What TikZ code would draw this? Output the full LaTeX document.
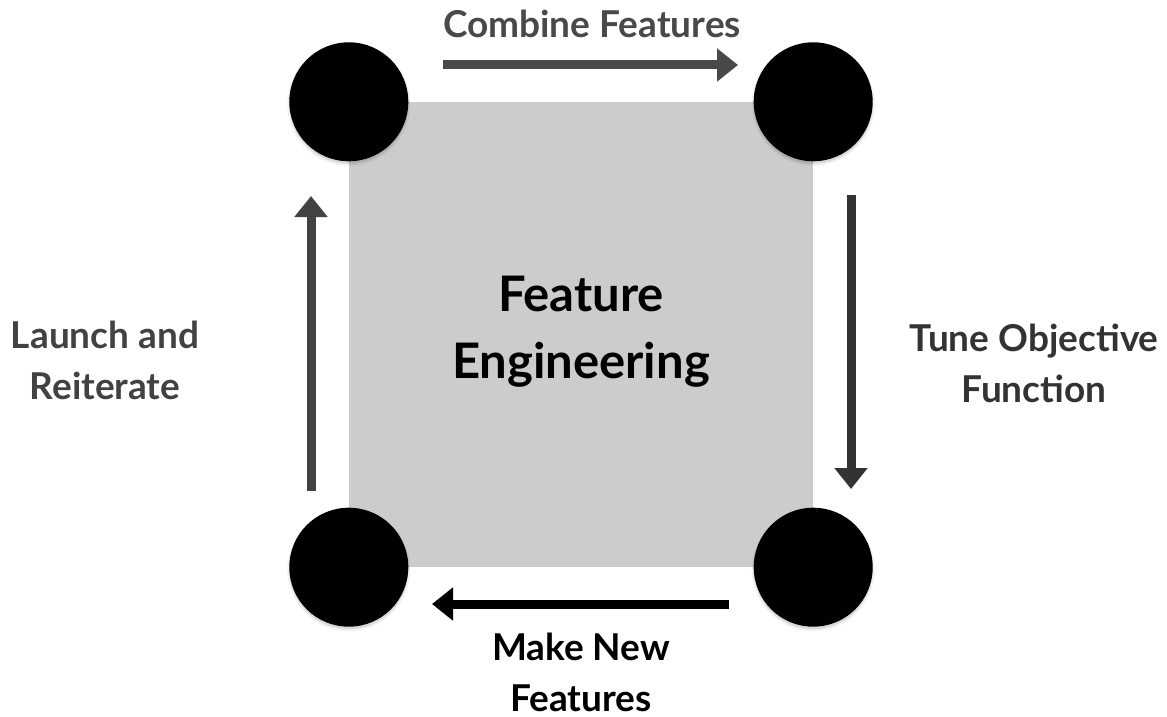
\documentclass[tikz,border=0pt]{standalone}
\usepackage{fontspec}
\setmainfont{Lato}
\usetikzlibrary{arrows.meta}

\definecolor{panelgrey}{HTML}{CCCCCC}
\definecolor{inktop}{HTML}{494949}
\definecolor{inkleft}{HTML}{424242}
\definecolor{inkright}{HTML}{333333}

\tikzset{
  corner/.style={circle, fill=black, minimum size=119pt, inner sep=0pt,
    preaction={fill=black, fill opacity=0.10, draw=black, draw opacity=0.05,
      line width=4pt, transform canvas={yshift=-2.5pt}}},
  panel/.style={fill=panelgrey, minimum width=464pt, minimum height=465pt, inner sep=0pt},
  title/.style={align=center, font=\bfseries\fontsize{49}{67}\selectfont, inner sep=0pt},
  steplabel/.style={align=center, font=\bfseries\fontsize{37}{51}\selectfont, inner sep=0pt},
  flow/.style={line width=9pt, -{Triangle[length=21pt,width=32pt]}},
}

\begin{document}
\begin{tikzpicture}[x=1pt, y=-1pt]
  \useasboundingbox (0,0) rectangle (1167,717);

  % central panel and its title
  \node[panel] (core) at (581,334.5) {};
  \node[title] (heading) at (581,332) {Feature\\Engineering};

  % corner markers
  \node[corner] (tl) at (core.north west) {};
  \node[corner] (tr) at (core.north east) {};
  \node[corner] (bl) at (core.south west) {};
  \node[corner] (br) at (core.south east) {};

  % arrow end points
  \coordinate (topS) at (443,65);
  \coordinate (topE) at (738,65);
  \coordinate (rightS) at (851,195);
  \coordinate (rightE) at (851,489);
  \coordinate (botS) at (729,604);
  \coordinate (botE) at (432,604);
  \coordinate (leftS) at (311,491);
  \coordinate (leftE) at (311,196);

  \draw[flow, inktop] (topS) -- (topE);
  \draw[flow, inkright] (rightS) -- (rightE);
  \draw[flow, black] (botS) -- (botE);
  \draw[flow, inkleft] (leftS) -- (leftE);

  % step labels
  \node[steplabel, text=inktop, anchor=base] (lcombine) at (592,38) {Combine Features};
  \node[steplabel, text=inkright] (ltune) at (1034,363.5) {Tune Objective\\Function};
  \node[steplabel, text=black] (lmake) at (581,672.5) {Make New\\Features};
  \node[steplabel, text=inkleft] (llaunch) at (105,360.5) {Launch and\\Reiterate};
\end{tikzpicture}
\end{document}
